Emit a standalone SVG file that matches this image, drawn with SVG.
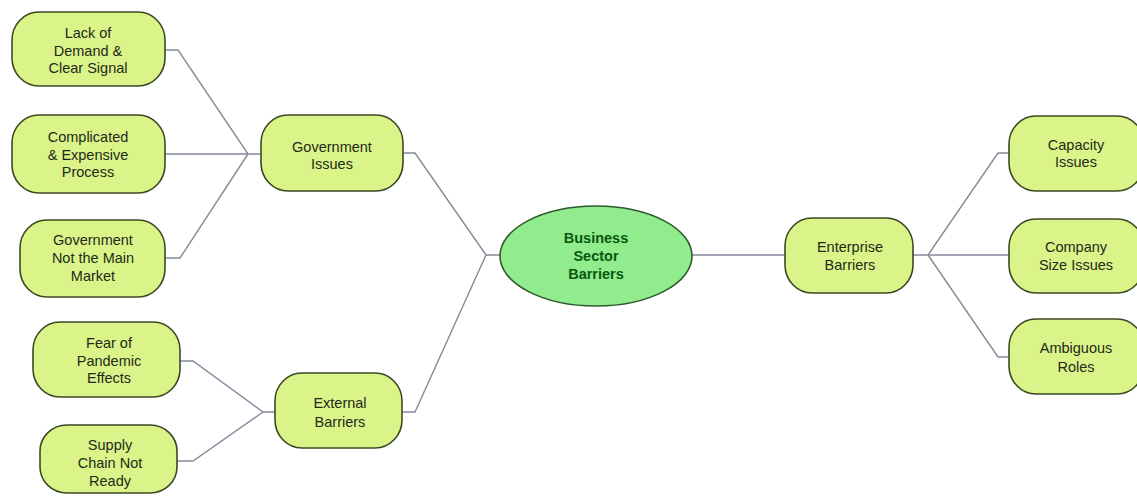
<svg xmlns="http://www.w3.org/2000/svg" width="1137" height="498" viewBox="0 0 1137 498">
<style>
.box{fill:#daf48a;stroke:#3b4a22;stroke-width:1.6}
.t{font-family:"Liberation Sans",Arial,sans-serif;font-size:14.5px;fill:#1f2a18;text-anchor:middle}
.c{fill:none;stroke:#858a9c;stroke-width:1.4}
.core{fill:#90ec8c;stroke:#2f5a2f;stroke-width:1.6}
.ct{font-family:"Liberation Sans",Arial,sans-serif;font-size:14.5px;font-weight:bold;fill:#0b560f;text-anchor:middle}
</style>
<rect width="1137" height="498" fill="#ffffff"/>
<g id="connectors">
<polyline class="c" points="165,50 178,50 248,154 261,154"/>
<polyline class="c" points="165,154 248,154"/>
<polyline class="c" points="165,258 180,258 248,154"/>
<polyline class="c" points="180,361 193,361 263,412 275,412"/>
<polyline class="c" points="177,461 193,461 263,412"/>
<polyline class="c" points="403,153 415,153 486,255 500,255"/>
<polyline class="c" points="402,412 415,412 486,255"/>
<polyline class="c" points="692,255 785,255"/>
<polyline class="c" points="913,255 928,255 998,153 1009,153"/>
<polyline class="c" points="928,255 1009,255"/>
<polyline class="c" points="928,255 998,357 1009,357"/>
</g>
<g id="n-lack"><rect class="box" x="12" y="12" width="153" height="74" rx="27" ry="28"/>
<text class="t"><tspan x="88" y="38">Lack of</tspan><tspan x="88" y="56">Demand &amp;</tspan><tspan x="88" y="73">Clear Signal</tspan></text></g>
<g id="n-complicated"><rect class="box" x="12" y="115" width="153" height="78" rx="27" ry="28"/>
<text class="t"><tspan x="88" y="142">Complicated</tspan><tspan x="88" y="160">&amp; Expensive</tspan><tspan x="88" y="177">Process</tspan></text></g>
<g id="n-govnot"><rect class="box" x="20" y="220" width="145" height="77" rx="27" ry="28"/>
<text class="t"><tspan x="93" y="245">Government</tspan><tspan x="93" y="263">Not the Main</tspan><tspan x="93" y="281">Market</tspan></text></g>
<g id="n-gov"><rect class="box" x="261" y="115" width="142" height="76" rx="27" ry="28"/>
<text class="t"><tspan x="332" y="152">Government</tspan><tspan x="332" y="169">Issues</tspan></text></g>
<g id="n-fear"><rect class="box" x="33" y="322" width="147" height="75" rx="27" ry="28"/>
<text class="t"><tspan x="109" y="348">Fear of</tspan><tspan x="109" y="366">Pandemic</tspan><tspan x="109" y="383">Effects</tspan></text></g>
<g id="n-supply"><rect class="box" x="40" y="425" width="137" height="68" rx="27" ry="26"/>
<text class="t"><tspan x="110" y="450">Supply</tspan><tspan x="110" y="468">Chain Not</tspan><tspan x="110" y="486">Ready</tspan></text></g>
<g id="n-external"><rect class="box" x="275" y="373" width="127" height="75" rx="27" ry="28"/>
<text class="t"><tspan x="340" y="408">External</tspan><tspan x="340" y="427">Barriers</tspan></text></g>
<g id="n-core"><ellipse class="core" cx="596" cy="256" rx="96" ry="50"/>
<text class="ct"><tspan x="596" y="243">Business</tspan><tspan x="596" y="261">Sector</tspan><tspan x="596" y="279">Barriers</tspan></text></g>
<g id="n-enterprise"><rect class="box" x="785" y="218" width="128" height="75" rx="27" ry="28"/>
<text class="t"><tspan x="850" y="252">Enterprise</tspan><tspan x="850" y="270">Barriers</tspan></text></g>
<g id="n-capacity"><rect class="box" x="1009" y="116" width="135" height="75" rx="27" ry="28"/>
<text class="t"><tspan x="1076" y="150">Capacity</tspan><tspan x="1076" y="167">Issues</tspan></text></g>
<g id="n-company"><rect class="box" x="1009" y="219" width="135" height="74" rx="27" ry="28"/>
<text class="t"><tspan x="1076" y="252">Company</tspan><tspan x="1076" y="270">Size Issues</tspan></text></g>
<g id="n-ambiguous"><rect class="box" x="1009" y="319" width="135" height="75" rx="27" ry="28"/>
<text class="t"><tspan x="1076" y="353">Ambiguous</tspan><tspan x="1076" y="372">Roles</tspan></text></g>
</svg>
